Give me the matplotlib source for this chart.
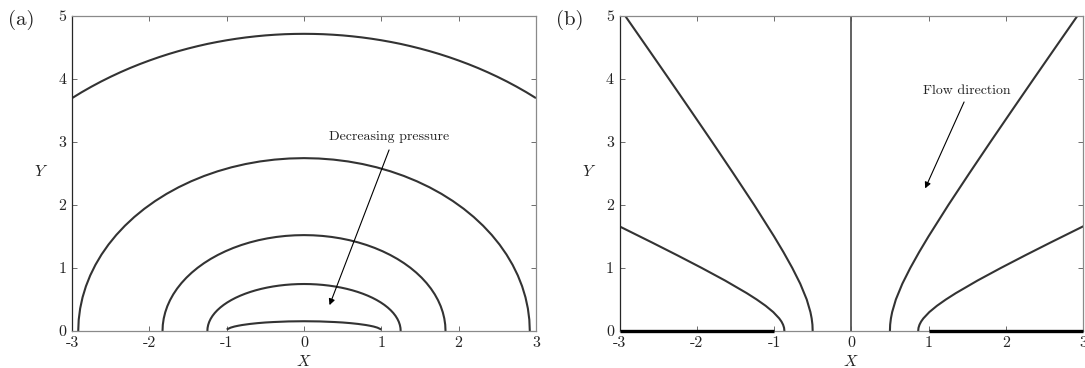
import matplotlib
matplotlib.use("Agg")
import matplotlib.pyplot as plt

plt.rcParams["font.family"] = "cmr10"
plt.rcParams["mathtext.fontset"] = "cm"
plt.rcParams["axes.unicode_minus"] = False
plt.rcParams["axes.formatter.use_mathtext"] = True

# ── panel (a): isobars, right halves (mirrored about X = 0) ──
P1_X = [0, 0.2, 0.4, 0.5, 0.6, 0.7, 0.8, 0.85, 0.9, 0.95, 1.0]
P1_Y = [0.155, 0.152, 0.142, 0.135, 0.125, 0.112, 0.095, 0.084, 0.071, 0.053, 0.024]

P2_X = [0, 0.0818, 0.1632, 0.2439, 0.3235, 0.4018, 0.4784, 0.5529, 0.625, 0.6945,
        0.7610, 0.8242, 0.8839, 0.9398, 0.9917, 1.0393, 1.0825, 1.1211, 1.1549, 1.1837,
        1.2074, 1.2260, 1.2393, 1.2473, 1.25]
P2_Y = [0.745, 0.7434, 0.7386, 0.7307, 0.7196, 0.7055, 0.6883, 0.6682, 0.6452, 0.6194,
        0.5910, 0.5601, 0.5268, 0.4912, 0.4535, 0.4139, 0.3725, 0.3295, 0.2851, 0.2395,
        0.1928, 0.1453, 0.0972, 0.0487, 0]

P3_X = [0, 0.1197, 0.2389, 0.3570, 0.4736, 0.5882, 0.7003, 0.8094, 0.915, 1.0167,
        1.1140, 1.2066, 1.2940, 1.3759, 1.4518, 1.5216, 1.5848, 1.6413, 1.6907, 1.7329,
        1.7677, 1.7948, 1.8143, 1.8261, 1.83]
P3_Y = [1.52, 1.5167, 1.5070, 1.4908, 1.4682, 1.4393, 1.4043, 1.3632, 1.3164, 1.2638,
        1.2059, 1.1428, 1.0748, 1.0022, 0.9253, 0.8445, 0.76, 0.6723, 0.5817, 0.4886,
        0.3934, 0.2965, 0.1984, 0.0994, 0]

P4_X = [0, 0.1910, 0.3811, 0.5697, 0.7558, 0.9386, 1.1174, 1.2915, 1.46, 1.6223,
        1.7776, 1.9253, 2.0648, 2.1954, 2.3166, 2.4279, 2.5288, 2.6189, 2.6977, 2.7650,
        2.8205, 2.8639, 2.8950, 2.9138, 2.92]
P4_Y = [2.74, 2.7341, 2.7165, 2.6874, 2.6466, 2.5946, 2.5314, 2.4574, 2.3729, 2.2782,
        2.1738, 2.0600, 1.9375, 1.8066, 1.6680, 1.5223, 1.37, 1.2119, 1.0485, 0.8807,
        0.7092, 0.5345, 0.3577, 0.1792, 0]

P5_X = [0, 0.125, 0.25, 0.375, 0.5, 0.625, 0.75, 0.875, 1, 1.125, 1.25, 1.375, 1.5,
        1.625, 1.75, 1.875, 2, 2.125, 2.25, 2.375, 2.5, 2.625, 2.75, 2.875, 3]
P5_Y = [4.71, 4.7084, 4.704, 4.6958, 4.685, 4.6704, 4.653, 4.6321, 4.608, 4.5805,
        4.550, 4.5151, 4.477, 4.4354, 4.390, 4.3406, 4.287, 4.2297, 4.168, 4.1013,
        4.030, 3.9537, 3.872, 3.7848, 3.691]

ISOBARS = [(P1_X, P1_Y), (P2_X, P2_Y), (P3_X, P3_Y), (P4_X, P4_Y), (P5_X, P5_Y)]

# ── panel (b): streamlines, right branches (left branches are mirror images) ──
S1_Y = [0, 0.1, 0.2, 0.3, 0.5, 0.75, 1, 1.25, 1.5, 2, 2.5, 3, 3.5, 4, 4.5, 5]
S1_X = [0.5, 0.503, 0.513, 0.529, 0.577, 0.661, 0.764, 0.878, 1.0, 1.258, 1.528, 1.803,
        2.082, 2.363, 2.646, 2.930]

S2_Y = [0, 0.05, 0.1, 0.15, 0.2, 0.3, 0.4, 0.5, 0.6, 0.8, 1.0, 1.2, 1.4, 1.658]
S2_X = [0.866, 0.870, 0.883, 0.904, 0.933, 1.010, 1.109, 1.225, 1.353, 1.634, 1.937,
        2.252, 2.575, 3.0]

WALL_X = [1, 3]
CENTRE_Y = [0, 5]

TICKS_X = [-3, -2, -1, 0, 1, 2, 3]
TICKS_Y = [0, 1, 2, 3, 4, 5]

LINE_C = "#333333"
TXT_C = "#222222"


def mirror(xs, ys):
    xf = [-v for v in xs[::-1]] + list(xs[1:])
    yf = list(ys[::-1]) + list(ys[1:])
    return xf, yf


def style(ax, lab, lab_x):
    ax.set_xlim(-3, 3)
    ax.set_ylim(0, 5)
    ax.set_xticks(TICKS_X)
    ax.set_xticklabels([str(t) for t in TICKS_X])
    ax.set_yticks(TICKS_Y)
    ax.set_yticklabels([str(t) for t in TICKS_Y])
    ax.tick_params(direction="in", top=True, right=True, length=3.5, width=0.6,
                   labelsize=11.5, pad=4, colors="#555555", labelcolor=TXT_C)
    for side, sp in ax.spines.items():
        sp.set_linewidth(0.9)
        sp.set_color("#262626" if side == "left" else "#8a8a8a")
    ax.text(0.5, -0.097, "$X$", transform=ax.transAxes, ha="center", va="center",
            fontsize=11.5, color=TXT_C)
    ax.text(-0.066, 0.507, "$Y$", transform=ax.transAxes, ha="center", va="center",
            fontsize=11.5, color=TXT_C)
    fig.text(lab_x, 0.945, lab, ha="left", va="center", fontsize=15, color=TXT_C)


fig = plt.figure(figsize=(10.85, 3.68), dpi=100)
ax1 = fig.add_axes([0.0664, 0.1005, 0.4276, 0.8573])
ax2 = fig.add_axes([0.571, 0.1005, 0.4272, 0.8573])

# (a) pressure contours
for xs, ys in ISOBARS:
    xf, yf = mirror(xs, ys)
    ax1.plot(xf, yf, color=LINE_C, lw=1.5, solid_capstyle="butt")
ax1.text(1.10, 3.08, "Decreasing pressure", ha="center", va="center", fontsize=10,
         color=TXT_C)
ax1.annotate("", xy=(0.33, 0.41), xytext=(1.10, 2.87),
             arrowprops=dict(arrowstyle="-|>", color="k", lw=0.8, mutation_scale=9,
                             shrinkA=0, shrinkB=0))
style(ax1, "(a)", 0.007)

# (b) streamlines
for xs, ys in [(S1_X, S1_Y), (S2_X, S2_Y)]:
    ax2.plot(xs, ys, color=LINE_C, lw=1.5)
    ax2.plot([-v for v in xs], ys, color=LINE_C, lw=1.5)
ax2.plot([0, 0], CENTRE_Y, color="#555555", lw=1.3)
ax2.plot(WALL_X, [0, 0], color="k", lw=2.4, clip_on=False, zorder=3,
         solid_capstyle="butt")
ax2.plot([-v for v in WALL_X], [0, 0], color="k", lw=2.4, clip_on=False, zorder=3,
         solid_capstyle="butt")
ax2.text(1.50, 3.81, "Flow direction", ha="center", va="center", fontsize=10,
         color=TXT_C)
ax2.annotate("", xy=(0.956, 2.26), xytext=(1.46, 3.63),
             arrowprops=dict(arrowstyle="-|>", color="k", lw=0.8, mutation_scale=9,
                             shrinkA=0, shrinkB=0))
style(ax2, "(b)", 0.512)

fig.savefig("out.png", dpi=100)
